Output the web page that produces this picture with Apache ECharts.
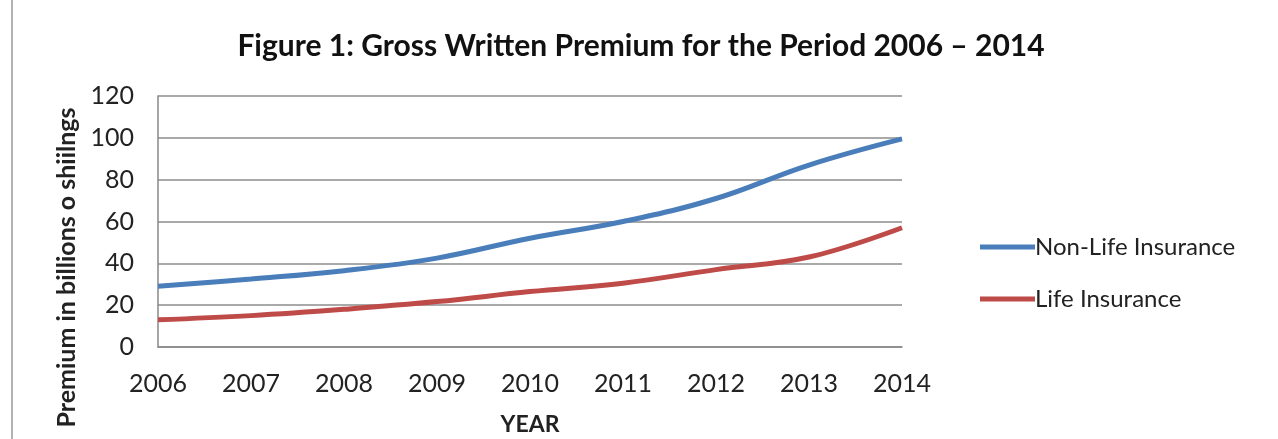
<!DOCTYPE html>
<html>
<head>
<meta charset="utf-8">
<script src="https://cdn.jsdelivr.net/npm/echarts@6/dist/echarts.min.js"></script>
<style>
html, body { margin: 0; padding: 0; background: #fff; }
#chart { width: 1278px; height: 439px; }
</style>
</head>
<body>
<div id="chart"></div>
<script>
var years = ["2006", "2007", "2008", "2009", "2010", "2011", "2012", "2013", "2014"];
var nonLife = [29, 32.5, 36.5, 42.5, 52, 60, 71, 87, 99.5];
var life = [13, 15, 18, 21.7, 26.5, 30.5, 37, 43, 57];
var seriesNames = ["Non-Life Insurance", "Life Insurance"];

var F = echarts.init(document.getElementById("chart"));
var font = "Lato, 'Open Sans', sans-serif";
F.setOption({
  animation: false,
  backgroundColor: "#fff",
  title: {
    text: "Figure 1: Gross Written Premium for the Period 2006 \u2013 2014",
    left: 636,
    textAlign: "center",
    top: 26,
    textStyle: { fontFamily: font, fontSize: 30, fontWeight: "bold", color: "#111" }
  },
  legend: {
    orient: "vertical",
    left: 975,
    top: 230,
    itemGap: 28,
    itemWidth: 55,
    itemHeight: 5,
    icon: "rect",
    data: seriesNames,
    textStyle: { fontFamily: font, fontSize: 24, color: "#222", padding: [0, 0, 0, -5] }
  },
  grid: { left: 158, right: 376, top: 96, bottom: 92, outerBoundsMode: "none" },
  xAxis: {
    type: "category",
    boundaryGap: false,
    data: years,
    name: "YEAR",
    nameLocation: "middle",
    nameGap: 66,
    nameTextStyle: { fontFamily: font, fontSize: 23, fontWeight: "bold", color: "#222" },
    axisLine: { lineStyle: { color: "#888", width: 1.5 } },
    axisTick: { show: false },
    axisLabel: { fontFamily: font, fontSize: 25, color: "#222", margin: 24 }
  },
  yAxis: {
    type: "value",
    min: 0,
    max: 120,
    interval: 20,
    name: "Premium in billions o shiilngs",
    nameLocation: "middle",
    nameGap: 74,
    nameTextStyle: { fontFamily: font, fontSize: 25, fontWeight: "bold", color: "#222", padding: [0, 92, 0, 0] },
    axisLine: { show: true, lineStyle: { color: "#888", width: 1.5 } },
    axisTick: { show: false },
    axisLabel: { fontFamily: font, fontSize: 25, color: "#222", margin: 24 },
    splitLine: { lineStyle: { color: "#8c8c8c", width: 1.5 } }
  },
  graphic: [{
    type: "line",
    shape: { x1: 12, y1: 0, x2: 12, y2: 439 },
    style: { stroke: "#999", lineWidth: 1.5 }
  }],
  series: [{
    name: seriesNames[0],
    type: "line",
    smooth: 0.4,
    symbol: "none",
    data: nonLife,
    itemStyle: { color: "#4a7ebb" },
    lineStyle: { color: "#4a7ebb", width: 5 }
  }, {
    name: seriesNames[1],
    type: "line",
    smooth: 0.4,
    symbol: "none",
    data: life,
    itemStyle: { color: "#be4b48" },
    lineStyle: { color: "#be4b48", width: 5 }
  }]
});
</script>
</body>
</html>
